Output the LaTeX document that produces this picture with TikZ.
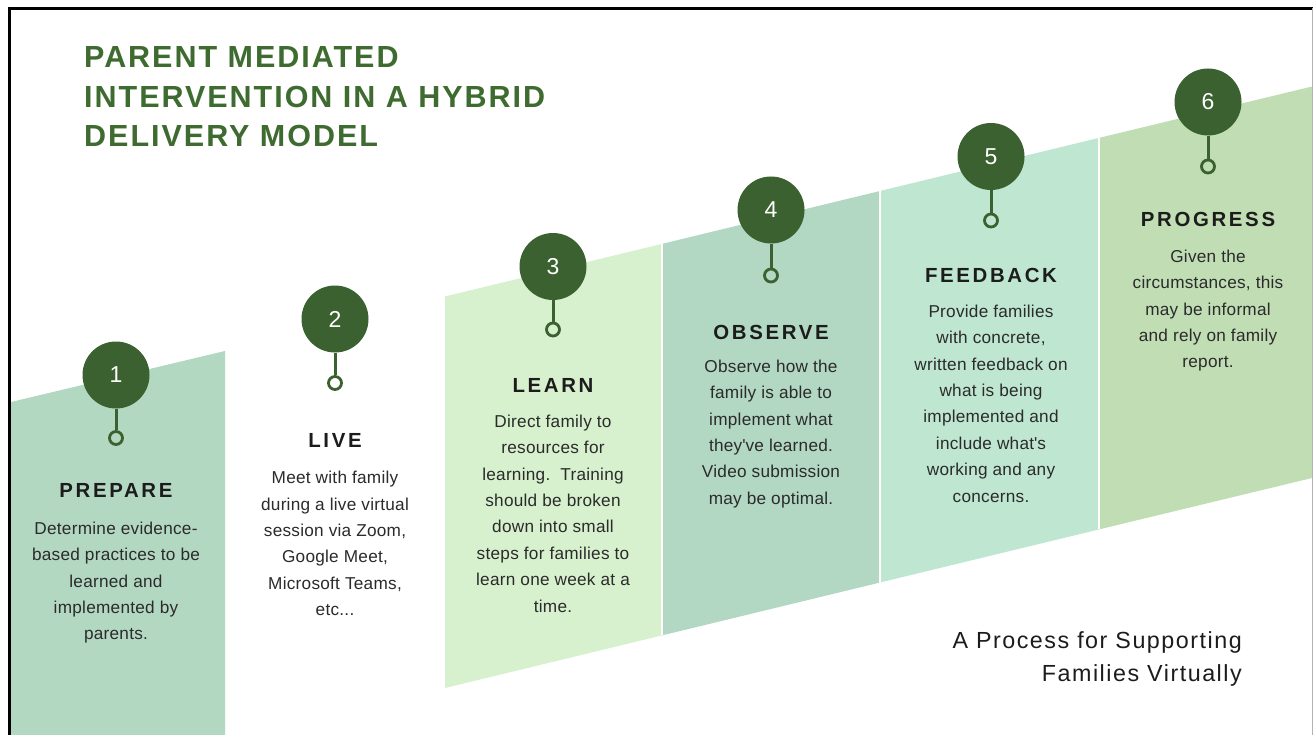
\documentclass[tikz,border=0pt]{standalone}
\usepackage{fontspec}
\setmainfont{Liberation Sans}
\newfontfamily\headfont[LetterSpace=6.5]{Liberation Sans}
\newfontfamily\stepfont[LetterSpace=13]{Liberation Sans}
\newfontfamily\bodyfont[LetterSpace=1.5]{Liberation Sans}
\newfontfamily\tagfont[LetterSpace=6.5]{Liberation Sans}
\newcommand\lnstrut{\rule{0pt}{13pt}}
\newcommand\hdstrut{\rule{0pt}{23pt}}
\newcommand\tgstrut{\rule{0pt}{18pt}}

\definecolor{hdgreen}{HTML}{3E6B2F}
\definecolor{dotgreen}{HTML}{3C6130}
\definecolor{pPrep}{HTML}{B3D8C2}
\definecolor{pLearn}{HTML}{D7F1CE}
\definecolor{pObs}{HTML}{B2D7C2}
\definecolor{pFeed}{HTML}{BEE6D0}
\definecolor{pProg}{HTML}{C0DDB4}
\definecolor{ink}{HTML}{1C1C1C}
\definecolor{bodyink}{HTML}{2B2B2B}

\tikzset{
  numdot/.style={circle, fill=dotgreen, minimum size=67pt, inner sep=0pt,
    text=white, font=\fontsize{23}{23}\selectfont},
  ringdot/.style={circle, draw=dotgreen, line width=2.8pt, minimum size=13pt, inner sep=0pt},
  stem/.style={draw=dotgreen, line width=3pt},
  steptitle/.style={anchor=base, inner sep=0pt, text=ink,
    font=\stepfont\bfseries\fontsize{20.4}{24}\selectfont},
  stepbody/.style={anchor=north, inner sep=0pt, align=center, text=bodyink,
    font=\bodyfont\fontsize{17.2}{26.4}\selectfont},
  sep/.style={draw=white, line width=2pt}
}

\begin{document}
\begin{tikzpicture}[x=1pt, y=-1pt]
\useasboundingbox (0,0) rectangle (1313,735);
\fill[white] (0,0) rectangle (1313,735);

% sloped band of step panels
\fill[pPrep]  (11,402) -- (225,351) -- (225,735) -- (11,735) -- cycle;
\fill[pLearn] (445,296.5) -- (662,243.9) -- (662,635.4) -- (445,688) -- cycle;
\fill[pObs]   (662,243.9) -- (880,191) -- (880,582.5) -- (662,635.4) -- cycle;
\fill[pFeed]  (880,191) -- (1099,137.9) -- (1099,529.4) -- (880,582.5) -- cycle;
\fill[pProg]  (1099,137.9) -- (1312,86.5) -- (1312,478) -- (1099,529.4) -- cycle;
\draw[sep] (662,243.9) -- (662,635.4);
\draw[sep] (880,191) -- (880,582.5);
\draw[sep] (1099,137.9) -- (1099,529.4);

% frame
\draw[black, line width=3pt] (9.5,735) -- (9.5,8.5) -- (1313,8.5);
\draw[black!30, line width=1.2pt] (1312.4,8.5) -- (1312.4,735);

% heading
\node[anchor=north west, inner sep=0pt, align=left, text=hdgreen,
  font=\headfont\bfseries\fontsize{30.5}{39.5}\selectfont] (head) at (84,44.5)
  {\hdstrut PARENT MEDIATED\\INTERVENTION IN A HYBRID\\DELIVERY MODEL};

% step markers
\node[numdot] (c1) at (116,375) {1};
\node[ringdot] (r1) at (116,438) {};
\draw[stem] (c1) -- (r1);
\node[numdot] (c2) at (335,319) {2};
\node[ringdot] (r2) at (335,383) {};
\draw[stem] (c2) -- (r2);
\node[numdot] (c3) at (553,266.5) {3};
\node[ringdot] (r3) at (553,329.5) {};
\draw[stem] (c3) -- (r3);
\node[numdot] (c4) at (771,210) {4};
\node[ringdot] (r4) at (771,275.5) {};
\draw[stem] (c4) -- (r4);
\node[numdot] (c5) at (991,156.5) {5};
\node[ringdot] (r5) at (991,220.5) {};
\draw[stem] (c5) -- (r5);
\node[numdot] (c6) at (1208,102) {6};
\node[ringdot] (r6) at (1208,166.5) {};
\draw[stem] (c6) -- (r6);

% step titles and descriptions
\node[steptitle] (t1) at (116,497) {PREPARE};
\node[stepbody] (b1) at (116,521)
  {\lnstrut Determine evidence-\\based practices to be\\learned and\\implemented by\\parents.};

\node[steptitle] (t2) at (335,447) {LIVE};
\node[stepbody] (b2) at (335,470.5)
  {\lnstrut Meet with family\\during a live virtual\\session via Zoom,\\Google Meet,\\Microsoft Teams,\\etc...};

\node[steptitle] (t3) at (553,392) {LEARN};
\node[stepbody] (b3) at (553,414)
  {\lnstrut Direct family to\\resources for\\learning.\ \ Training\\should be broken\\down into small\\steps for families to\\learn one week at a\\time.};

\node[steptitle] (t4) at (771,339.5) {OBSERVE};
\node[stepbody] (b4) at (771,359)
  {\lnstrut Observe how the\\family is able to\\implement what\\they\textquotesingle ve learned.\\Video submission\\may be optimal.};

\node[steptitle] (t5) at (991,282) {FEEDBACK};
\node[stepbody] (b5) at (991,304)
  {\lnstrut Provide families\\with concrete,\\written feedback on\\what is being\\implemented and\\include what\textquotesingle s\\working and any\\concerns.};

\node[steptitle] (t6) at (1208,227) {PROGRESS};
\node[stepbody] (b6) at (1208,249)
  {\lnstrut Given the\\circumstances, this\\may be informal\\and rely on family\\report.};

% tagline
\node[anchor=north east, inner sep=0pt, align=right, text=ink,
  font=\tagfont\fontsize{23.3}{33.4}\selectfont] (tag) at (1242,630.3)
  {\tgstrut A Process for Supporting\\Families Virtually};
\end{tikzpicture}
\end{document}
